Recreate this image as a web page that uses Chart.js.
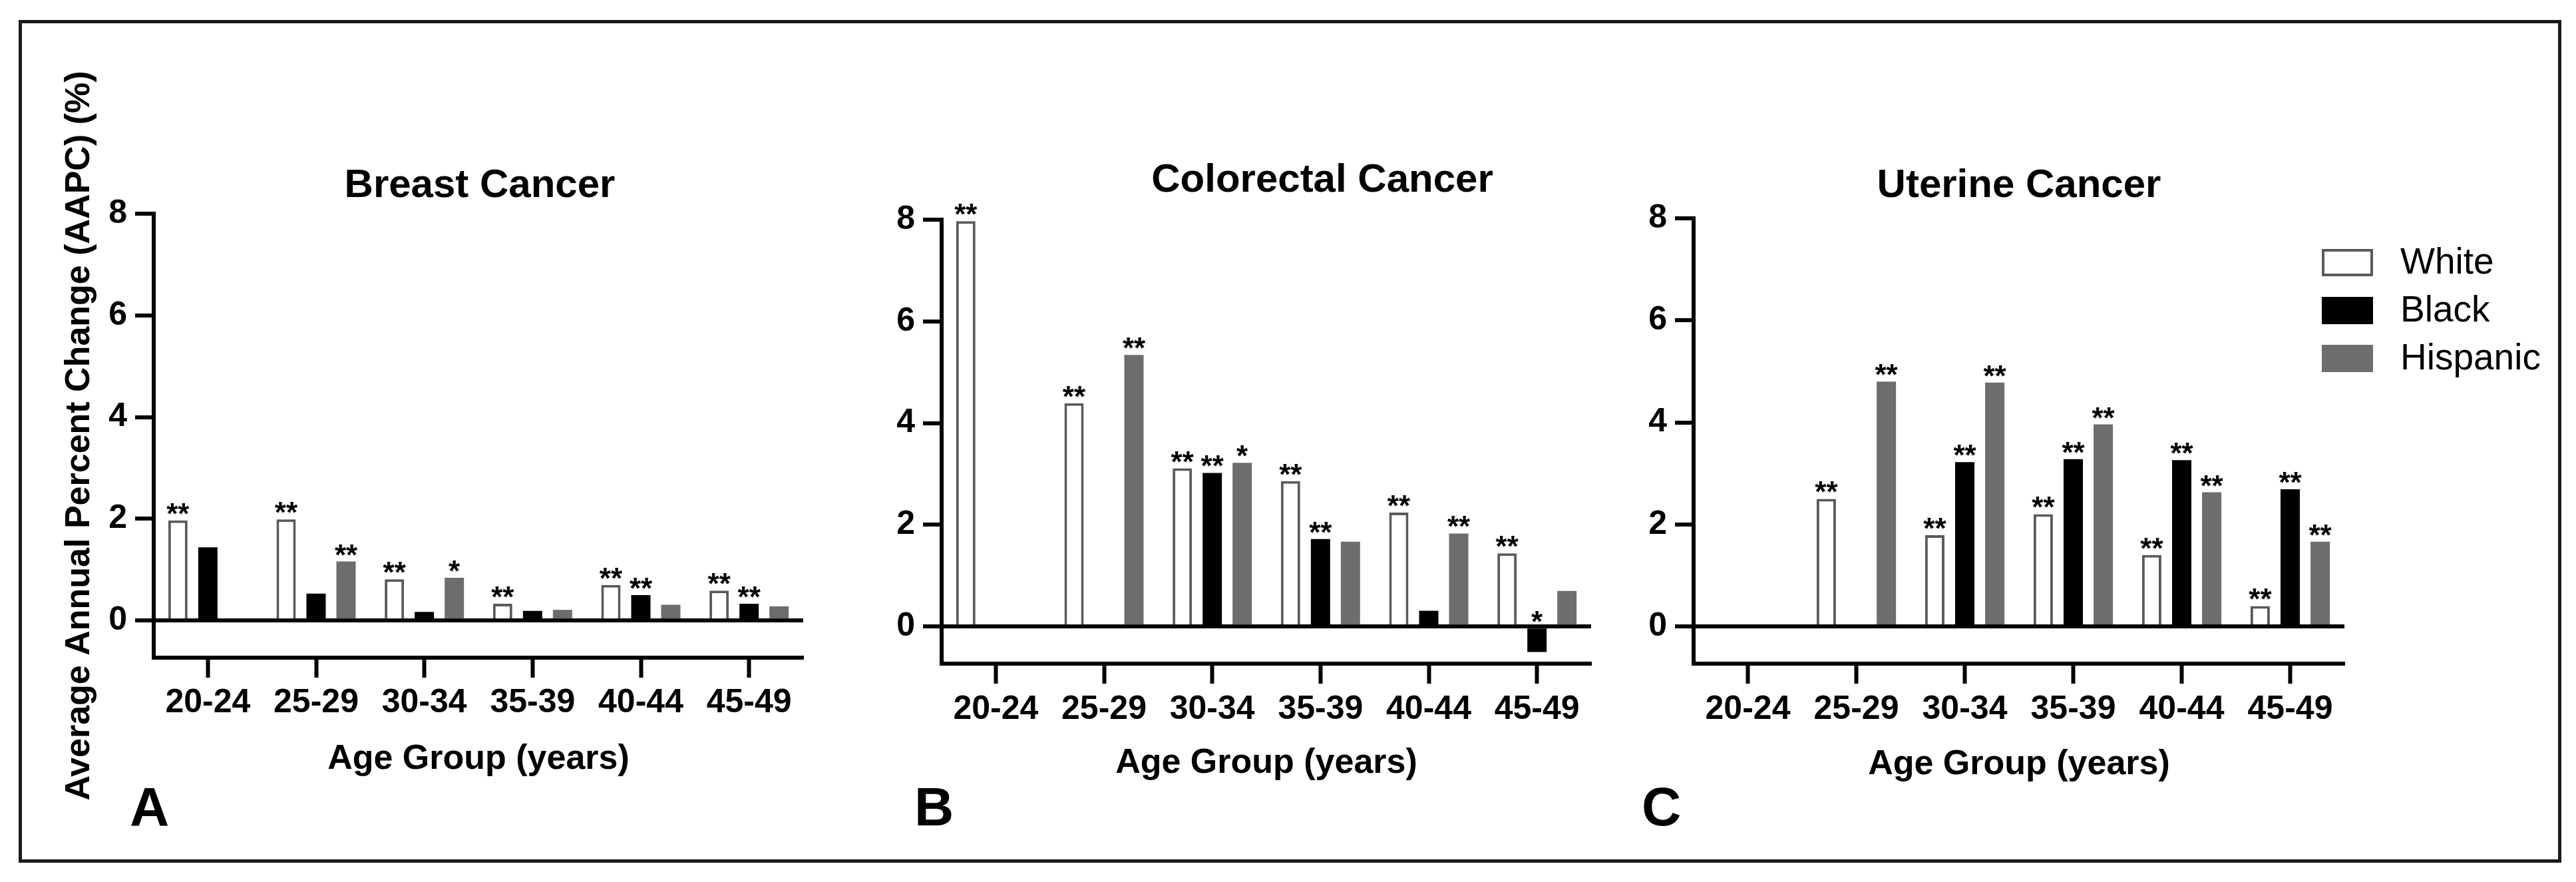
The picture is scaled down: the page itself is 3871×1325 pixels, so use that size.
<!DOCTYPE html>
<html>
<head>
<meta charset="utf-8">
<script src="https://cdn.jsdelivr.net/npm/chart.js@4.4.1/dist/chart.umd.min.js"></script>
<style>
  body { margin: 0; background: #fff; }
  #page { position: relative; width: 3871px; height: 1325px; overflow: hidden;
          font-family: "Liberation Sans", Arial, sans-serif; color: #000; }
  canvas { position: absolute; top: 0; }
  .frame { position: absolute; left: 28px; top: 30px; width: 3821px; height: 1266px;
           box-sizing: border-box; border: 5px solid #1a1a1a; }
  .ptitle { position: absolute; font-weight: bold; font-size: 60px; line-height: 1;
            white-space: nowrap; transform: translate(-50%, -50%); }
  .letter { position: absolute; font-weight: bold; font-size: 82px; line-height: 1;
            transform: translateY(-50%); }
</style>
</head>
<body>
<div id="page">
  <div class="frame"></div>
  <canvas id="chartA" width="1220" height="1325" style="left:0px"></canvas>
  <canvas id="chartB" width="1110" height="1325" style="left:1300px"></canvas>
  <canvas id="chartC" width="1420" height="1325" style="left:2430px"></canvas>
  <div class="ptitle" style="left:721px; top:276px">Breast Cancer</div>
  <div class="ptitle" style="left:1987px; top:268px">Colorectal Cancer</div>
  <div class="ptitle" style="left:3034px; top:276px">Uterine Cancer</div>
  <div class="letter" style="left:195px; top:1212px">A</div>
  <div class="letter" style="left:1374px; top:1212px">B</div>
  <div class="letter" style="left:2467px; top:1212px">C</div>
</div>
<script>
// categorias y series
const ageGroups = ['20-24', '25-29', '30-34', '35-39', '40-44', '45-49'];
const yTicks = [0, 2, 4, 6, 8];
const seriesNames = ['White', 'Black', 'Hispanic'];

// A - Breast Cancer
const breastWhite    = [1.97, 1.99, 0.81, 0.33, 0.70, 0.59];
const breastBlack    = [1.44, 0.53, 0.17, 0.19, 0.50, 0.33];
const breastHispanic = [null, 1.16, 0.84, 0.21, 0.31, 0.28];
const breastStars = [
    ['**', '**', '**', '**', '**', '**'],
    ['', '', '', '', '**', '**'],
    ['', '**', '*', '', '', '']
];

// B - Colorectal Cancer
const colorectalWhite    = [7.97, 4.39, 3.11, 2.86, 2.24, 1.44];
const colorectalBlack    = [null, null, 3.02, 1.72, 0.31, -0.50];
const colorectalHispanic = [null, 5.34, 3.22, 1.67, 1.83, 0.70];
const colorectalStars = [
    ['**', '**', '**', '**', '**', '**'],
    ['', '', '**', '**', '', '*'],
    ['', '**', '*', '', '**', '']
];

// C - Uterine Cancer
const uterineWhite    = [null, 2.50, 1.79, 2.20, 1.40, 0.40];
const uterineBlack    = [null, null, 3.22, 3.28, 3.26, 2.69];
const uterineHispanic = [null, 4.80, 4.78, 3.96, 2.63, 1.66];
const uterineStars = [
    ['', '**', '**', '**', '**', '**'],
    ['', '', '**', '**', '**', '**'],
    ['', '**', '**', '**', '**', '**']
];

Chart.defaults.font.family = '"Liberation Sans", Arial, sans-serif';
Chart.defaults.color = '#000';

// asteriscos encima de cada barra
const starsPlugin = {
    id: 'stars',
    afterDatasetsDraw(chart, args, opts) {
        const ctx = chart.ctx;
        ctx.save();
        ctx.font = 'bold 44px "Liberation Sans", Arial, sans-serif';
        ctx.textAlign = 'center';
        ctx.textBaseline = 'alphabetic';
        ctx.fillStyle = '#000';
        chart.data.datasets.forEach((ds, i) => {
            const meta = chart.getDatasetMeta(i);
            meta.data.forEach((bar, j) => {
                const mark = opts.marks[i][j];
                if (!mark || ds.data[j] === null) return;
                ctx.fillText(mark, bar.x, Math.min(bar.y, bar.base) + 5);
            });
        });
        ctx.restore();
    }
};

// leyenda dentro del panel C
const sideLegend = {
    id: 'sideLegend',
    afterDraw(chart) {
        const ctx = chart.ctx;
        const area = chart.chartArea;
        const x = area.right - 34;
        const y0 = area.top + 46;
        ctx.save();
        chart.data.datasets.forEach((ds, i) => {
            const y = y0 + i * 72;
            ctx.fillStyle = ds.backgroundColor;
            ctx.fillRect(x, y, 77, 41);
            if (ds.borderWidth) {
                ctx.lineWidth = 4;
                ctx.strokeStyle = ds.borderColor;
                ctx.strokeRect(x + 2, y + 2, 73, 37);
            }
            ctx.fillStyle = '#000';
            ctx.font = '55px "Liberation Sans", Arial, sans-serif';
            ctx.textBaseline = 'middle';
            ctx.textAlign = 'left';
            ctx.fillText(ds.label, x + 118, y + 22);
        });
        ctx.restore();
    }
};

function makePanel(id, p) {
    const ctx = document.getElementById(id).getContext('2d');
    return new Chart(ctx, {
        type: 'bar',
        data: {
            labels: ageGroups,
            datasets: [
                { label: seriesNames[0], data: p.white, backgroundColor: '#ffffff', borderColor: '#5a5a5a', borderWidth: 4 },
                { label: seriesNames[1], data: p.black, backgroundColor: '#000000', borderWidth: 0 },
                { label: seriesNames[2], data: p.hispanic, backgroundColor: '#6d6d6d', borderWidth: 0 }
            ]
        },
        options: {
            responsive: false,
            animation: false,
            devicePixelRatio: 1,
            categoryPercentage: 0.83,
            barPercentage: 0.644,
            layout: { padding: { top: p.top, bottom: p.bottom, left: 0, right: p.right } },
            scales: {
                x: {
                    offset: true,
                    grid: { offset: false, drawOnChartArea: false, drawTicks: true, tickLength: 30, tickWidth: 6, tickColor: '#000' },
                    border: { display: true, width: 6, color: '#000' },
                    ticks: { font: { size: 50, weight: 'bold' }, padding: p.tickPad, maxRotation: 0, autoSkip: false },
                    title: { display: true, text: 'Age Group (years)', font: { size: 52, weight: 'bold' }, padding: { top: 0, bottom: p.titlePad } },
                    afterFit: s => { s.height = 200; }
                },
                y: {
                    min: -0.73,
                    max: 8,
                    afterBuildTicks: axis => { axis.ticks = yTicks.map(v => ({ value: v })); },
                    grid: {
                        drawTicks: true, tickLength: 28, tickWidth: 6, tickColor: '#000',
                        color: c => (c.tick && c.tick.value === 0) ? '#000' : 'rgba(0,0,0,0)',
                        lineWidth: c => (c.tick && c.tick.value === 0) ? 6 : 0
                    },
                    border: { display: true, width: 6, color: '#000' },
                    ticks: { font: { size: 50, weight: 'bold' }, padding: 12 },
                    title: { display: p.yTitle, text: 'Average Annual Percent Change (AAPC) (%)', font: { size: 52, weight: 'bold' }, padding: { top: 88.8, bottom: 0 } },
                    afterFit: s => { s.width = p.yWidth; }
                }
            },
            plugins: {
                legend: { display: false },
                tooltip: { enabled: false },
                stars: { marks: p.stars }
            }
        },
        plugins: p.legend ? [starsPlugin, sideLegend] : [starsPlugin]
    });
}

makePanel('chartA', {
    white: breastWhite, black: breastBlack, hispanic: breastHispanic, stars: breastStars,
    top: 321, bottom: 137, right: 13, yWidth: 231, tickPad: 8, titlePad: 15.8, yTitle: true
});
makePanel('chartB', {
    white: colorectalWhite, black: colorectalBlack, hispanic: colorectalHispanic, stars: colorectalStars,
    top: 330, bottom: 128, right: 19, yWidth: 115, tickPad: 9, titlePad: 18.8, yTitle: false
});
makePanel('chartC', {
    white: uterineWhite, black: uterineBlack, hispanic: uterineHispanic, stars: uterineStars,
    top: 328, bottom: 128, right: 327, yWidth: 115, tickPad: 9, titlePad: 16.8, yTitle: false, legend: true
});
</script>
</body>
</html>
